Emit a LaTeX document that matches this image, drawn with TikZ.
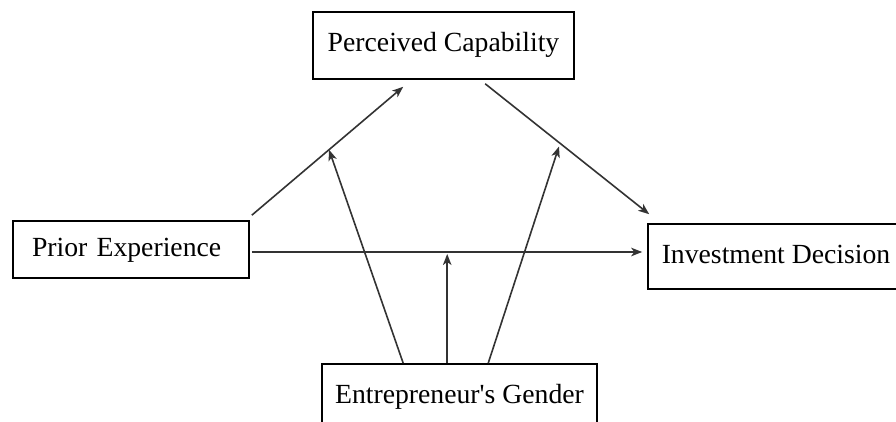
\documentclass[tikz,border=0pt]{standalone}
\usepackage{fontspec}
\setmainfont{Liberation Serif}
\usetikzlibrary{arrows.meta,calc}
\begin{document}
\begin{tikzpicture}[x=1pt,y=-1pt,
  box/.style={draw=black,line width=1.6pt,inner sep=0pt,text height=19pt,text depth=6pt,
    font=\fontsize{27.7}{33}\selectfont},
  arr/.style={draw=black!80,line width=1.6pt,-{Stealth[length=11pt,width=8.5pt,inset=3pt]}}]
\path[use as bounding box, clip] (0,0) rectangle (896,422);
\fill[white] (0,0) rectangle (896,422);

% constructs
\node[box,minimum width=261pt,minimum height=67pt] (pc) at (443.5,45.5) {Perceived Capability};
\node[box,minimum width=236pt,minimum height=57pt,text width=198pt,inner xsep=19pt,align=left]
  (pe) at (131,249.5) {Prior Experience};
\node[box,minimum width=256pt,minimum height=65pt] (id) at (776,256.5) {Investment Decision};
\node[box,minimum width=275pt,minimum height=65pt] (gen) at (459.5,396.5) {Entrepreneur\textquotesingle s Gender};

% mediation paths
\draw[arr] ([shift={(2,-5)}]pe.north east) -- ([shift={(91,7)}]pc.south west) coordinate[pos=0.51] (m1);
\draw[arr] ([shift={(173,4)}]pc.south west) -- ([shift={(2,-9)}]id.north west) coordinate[pos=0.45] (m2);
\coordinate (h0) at ([shift={(2,2.5)}]pe.east);
\draw[arr,shorten >=5pt] (h0) -- (h0 -| id.west);

% moderating effects of gender
\coordinate (g1) at ([shift={(82,0)}]gen.north west);
\coordinate (g2) at ([shift={(126,0)}]gen.north west);
\coordinate (g3) at ([shift={(167,0)}]gen.north west);
\draw[arr] (g1) -- (m1);
\draw[arr] (g2) -- ([shift={(0,2)}]g2 |- h0);
\draw[arr] (g3) -- ([shift={(0,4)}]m2);
\end{tikzpicture}
\end{document}
